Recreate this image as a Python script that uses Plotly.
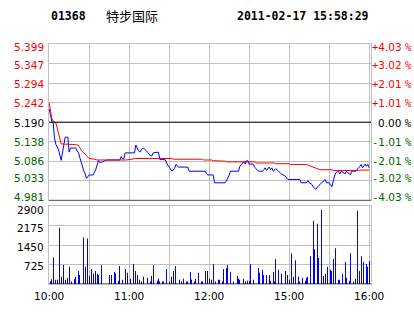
import plotly.graph_objects as go

# ---------------- data ----------------
CODE = "01368"
NAME = "特步国际"
STAMP = "2011-02-17 15:58:29"
PREV_CLOSE = 5.190

price_levels = [5.399, 5.347, 5.294, 5.242, 5.190, 5.138, 5.086, 5.033, 4.981]
pct_labels = ["+4.03 %", "+3.02 %", "+2.01 %", "+1.01 %", "0.00 %",
              "-1.01 %", "-2.01 %", "-3.02 %", "-4.03 %"]
volume_levels = [0, 725, 1450, 2175, 2900]
grid_times = ["10:00", "10:30", "11:00", "11:30", "12:00", "12:30", "15:00", "15:30", "16:00"]
time_labels = ["10:00", "", "11:00", "", "12:00", "", "15:00", "", "16:00"]

price_times = ["10:00", "10:01", "10:02", "10:03", "10:04", "10:05", "10:07", "10:09", "10:11", "10:12",
               "10:14", "10:15", "10:16", "10:20", "10:21", "10:22", "10:23", "10:25", "10:26", "10:27",
               "10:28", "10:30", "10:33", "10:35", "10:36", "10:37", "10:38", "10:39", "10:40", "10:43",
               "10:53", "10:54", "10:55", "10:56", "10:57", "11:04", "11:05", "11:07", "11:08", "11:10",
               "11:11", "11:13", "11:16", "11:17", "11:18", "11:22", "11:23", "11:27", "11:28", "11:30",
               "11:32", "11:34", "11:35", "11:37", "11:44", "11:45", "11:57", "11:58", "11:59", "12:03",
               "12:04", "12:12", "12:13", "12:14", "12:15", "12:16", "12:22", "12:23", "12:25", "12:26",
               "12:27", "12:28", "12:29", "14:30", "14:33", "14:34", "14:37", "14:40", "14:41", "14:42",
               "14:43", "14:45", "14:46", "14:47", "14:48", "14:50", "14:52", "14:54", "14:57", "14:59",
               "15:08", "15:09", "15:13", "15:14", "15:15", "15:17", "15:18", "15:20", "15:22", "15:24",
               "15:27", "15:28", "15:30", "15:32", "15:33", "15:34", "15:35", "15:37", "15:38", "15:39",
               "15:42", "15:43", "15:44", "15:46", "15:47", "15:50", "15:53", "15:54", "15:55", "15:57",
               "15:58", "15:59", "16:00"]
price_values = [5.226, 5.205, 5.192, 5.188, 5.148, 5.131, 5.117, 5.088, 5.135, 5.150,
                5.150, 5.110, 5.121, 5.121, 5.113, 5.108, 5.095, 5.069, 5.060, 5.052,
                5.040, 5.049, 5.049, 5.064, 5.077, 5.088, 5.082, 5.082, 5.084, 5.089,
                5.089, 5.098, 5.092, 5.092, 5.108, 5.108, 5.129, 5.114, 5.110, 5.120,
                5.120, 5.113, 5.100, 5.100, 5.108, 5.110, 5.090, 5.090, 5.081, 5.070,
                5.059, 5.066, 5.077, 5.070, 5.070, 5.059, 5.059, 5.052, 5.049, 5.049,
                5.028, 5.028, 5.037, 5.041, 5.049, 5.059, 5.059, 5.072, 5.081, 5.085,
                5.078, 5.087, 5.087, 5.078, 5.078, 5.070, 5.059, 5.059, 5.063, 5.068,
                5.061, 5.070, 5.063, 5.068, 5.059, 5.066, 5.059, 5.052, 5.046, 5.037,
                5.037, 5.028, 5.028, 5.034, 5.028, 5.024, 5.017, 5.011, 5.020, 5.028,
                5.037, 5.028, 5.028, 5.017, 5.033, 5.046, 5.055, 5.059, 5.052, 5.059,
                5.052, 5.059, 5.055, 5.050, 5.059, 5.059, 5.072, 5.077, 5.068, 5.078,
                5.072, 5.077, 5.068]

avg_times = ["10:00", "10:01", "10:02", "10:03", "10:05", "10:06", "10:07", "10:08", "10:09", "10:20",
             "10:22", "10:24", "10:26", "10:28", "10:30", "10:34", "10:36", "10:58", "11:00", "11:05",
             "11:32", "11:33", "11:55", "11:56", "12:02", "12:03", "12:12", "12:13", "14:34", "14:35",
             "14:49", "14:50", "15:00", "15:01", "15:13", "15:16", "15:19", "15:21", "15:23", "15:32",
             "15:33", "15:52", "15:53", "16:00"]
avg_values = [5.242, 5.215, 5.200, 5.193, 5.188, 5.175, 5.160, 5.143, 5.132, 5.130,
              5.128, 5.115, 5.107, 5.100, 5.093, 5.091, 5.089, 5.089, 5.090, 5.093,
              5.093, 5.091, 5.091, 5.089, 5.089, 5.087, 5.086, 5.084, 5.084, 5.081,
              5.081, 5.079, 5.079, 5.077, 5.077, 5.073, 5.068, 5.065, 5.063, 5.063,
              5.061, 5.061, 5.062, 5.062]

vol_times = ["10:01", "10:02", "10:03", "10:05", "10:06", "10:08", "10:09", "10:11", "10:12", "10:14",
             "10:15", "10:17", "10:19", "10:20", "10:22", "10:23", "10:26", "10:27", "10:29", "10:30",
             "10:32", "10:33", "10:35", "10:36", "10:37", "10:39", "10:45", "10:47", "10:49", "10:50",
             "10:52", "10:53", "10:55", "10:57", "10:59", "11:01", "11:03", "11:05", "11:06", "11:08",
             "11:09", "11:11", "11:14", "11:16", "11:17", "11:18", "11:21", "11:22", "11:23", "11:25",
             "11:26", "11:28", "11:30", "11:32", "11:33", "11:35", "11:38", "11:39", "11:41", "11:43",
             "11:44", "11:46", "11:47", "11:49", "11:50", "11:52", "11:54", "11:55", "11:57", "11:59",
             "12:00", "12:02", "12:03", "12:05", "12:07", "12:08", "12:10", "12:11", "12:13", "12:14",
             "12:16", "12:18", "12:21", "12:22", "12:23", "12:26", "12:27", "12:29", "14:30", "14:31",
             "14:33", "14:37", "14:38", "14:40", "14:41", "14:43", "14:45", "14:46", "14:48", "14:49",
             "14:50", "14:52", "14:54", "14:57", "14:59", "15:00", "15:02", "15:03", "15:05", "15:07",
             "15:08", "15:10", "15:12", "15:13", "15:14", "15:16", "15:18", "15:19", "15:21", "15:22",
             "15:24", "15:26", "15:27", "15:29", "15:31", "15:32", "15:33", "15:35", "15:37", "15:38",
             "15:40", "15:42", "15:43", "15:45", "15:46", "15:48", "15:50", "15:51", "15:53", "15:54",
             "15:56", "15:58", "15:59", "16:00"]
vol_values = [100, 180, 1000, 160, 160, 2100, 270, 710, 160, 220,
              640, 90, 180, 270, 490, 340, 1740, 640, 1700, 300,
              560, 390, 490, 370, 340, 710, 340, 340, 450, 390,
              120, 670, 160, 560, 420, 200, 750, 490, 340, 160,
              90, 270, 230, 90, 300, 710, 120, 200, 90, 90,
              90, 560, 90, 270, 490, 670, 160, 90, 200, 90,
              90, 450, 160, 90, 200, 420, 90, 90, 490, 490,
              200, 160, 750, 90, 160, 160, 90, 560, 600, 710,
              450, 90, 300, 200, 160, 200, 90, 120, 120, 750,
              160, 600, 420, 530, 340, 340, 340, 120, 450, 90,
              930, 530, 380, 490, 340, 160, 1150, 270, 890, 270,
              90, 230, 120, 230, 270, 1040, 2360, 1300, 2250, 970,
              2760, 300, 380, 640, 530, 490, 930, 1330, 160, 160,
              380, 820, 230, 120, 1150, 90, 200, 2730, 490, 1040,
              820, 750, 640, 860]


# ---------------- helpers ----------------
def session_minute(t):
    """Minutes of trading since 10:00 (HK: 10:00-12:30, 14:30-16:00)."""
    h, m = (int(p) for p in t.split(":"))
    total = h * 60 + m
    if total < 14 * 60:
        return total - 10 * 60
    return 150 + total - (14 * 60 + 30)


RED = "#ff0000"
GREEN = "#006400"
BLUE = "#0000ff"
GRID = "#c0c0c0"
FONT = "DejaVu Sans"
MONO = "DejaVu Sans Mono"
LABEL_SIZE = 10.5

W, H = 414, 314
ML, MR, MT, MB = 49, 43, 44, 26
plot_w = W - ML - MR
plot_h = H - MT - MB
px_per_min = 40 / 30
x_lo = -0.125
x_hi = x_lo + plot_w / px_per_min

price_dom = [(plot_h - 159) / plot_h, 1]
vol_dom = [0, 79 / plot_h]

# label nudges (pixels, positive = down) so the end labels stay inside their panel
price_nudge = [2.5, 2, 1, 0.5, 0.5, 0.5, -0.5, -2.5, -3.5]
vol_nudge = [1, 2, 2.5, 3.5]

grid_x = [session_minute(t) for t in grid_times]

fig = go.Figure()
fig.add_trace(go.Scatter(x=[session_minute(t) for t in price_times], y=price_values,
                         mode="lines", line=dict(color=BLUE, width=1),
                         xaxis="x", yaxis="y", hoverinfo="skip"))
fig.add_trace(go.Scatter(x=[session_minute(t) for t in avg_times], y=avg_values,
                         mode="lines", line=dict(color=RED, width=1),
                         xaxis="x", yaxis="y", hoverinfo="skip"))
fig.add_trace(go.Bar(x=[session_minute(t) for t in vol_times], y=vol_values,
                     width=0.19, marker=dict(color=BLUE, line=dict(width=0)),
                     xaxis="x2", yaxis="y2", hoverinfo="skip"))

xcommon = dict(range=[x_lo, x_hi], tickmode="array", tickvals=grid_x,
               showgrid=True, gridcolor=GRID, gridwidth=1, zeroline=False,
               showline=True, linecolor=GRID, linewidth=1, mirror=True,
               ticks="", fixedrange=True)
ycommon = dict(showgrid=True, gridcolor=GRID, gridwidth=1, zeroline=False,
               showline=True, linecolor=GRID, linewidth=1, mirror=True,
               ticks="", showticklabels=False, fixedrange=True, tickmode="array")

fig.update_layout(
    width=W, height=H,
    margin=dict(l=ML, r=MR, t=MT, b=MB, pad=0),
    paper_bgcolor="white", plot_bgcolor="white",
    showlegend=False, hovermode=False,
    xaxis=dict(**xcommon, anchor="y", showticklabels=False),
    xaxis2=dict(**xcommon, anchor="y2", ticktext=time_labels, ticklabelstandoff=2,
                tickfont=dict(family=FONT, size=LABEL_SIZE, color="black")),
    yaxis=dict(**ycommon, domain=price_dom, anchor="x",
               range=[price_levels[-1], price_levels[0]], tickvals=price_levels),
    yaxis2=dict(**ycommon, domain=vol_dom, anchor="x2",
                range=[volume_levels[0], volume_levels[-1]], tickvals=volume_levels),
)

# black reference lines
for yref, yv in (("y", PREV_CLOSE), ("y", price_levels[-1]), ("y2", volume_levels[0])):
    fig.add_shape(type="line", xref="x domain", x0=0, x1=1, yref=yref, y0=yv, y1=yv,
                  line=dict(color="black", width=1), layer="above")


def narrow(ch):
    return f'<span style="font-family:DejaVu Sans Mono">{ch}</span>'


def pct_text(s):
    sign = s[0] if s[0] in "+-" else ""
    body = s[len(sign):].replace(" %", "")
    return (narrow(sign) if sign else "") + body + " " + narrow("%")


# axis labels
ann = []
for lvl, pct, nd in zip(price_levels, pct_labels, price_nudge):
    if abs(lvl - PREV_CLOSE) < 1e-9:
        col = "black"
    elif lvl > PREV_CLOSE:
        col = RED
    else:
        col = GREEN
    ann.append(dict(xref="paper", x=0, xanchor="right", xshift=-3, yref="y", y=lvl,
                    yanchor="middle", yshift=-nd, text=f"{lvl:.3f}", showarrow=False,
                    font=dict(family=FONT, size=LABEL_SIZE, color=col)))
    ann.append(dict(xref="paper", x=1, xanchor="right", xshift=MR, yref="y", y=lvl,
                    yanchor="middle", yshift=-nd, text=pct_text(pct), showarrow=False,
                    font=dict(family=FONT, size=LABEL_SIZE, color=col)))
for v, nd in zip(volume_levels[1:], vol_nudge):
    ann.append(dict(xref="paper", x=0, xanchor="right", xshift=-3, yref="y2", y=v,
                    yanchor="middle", yshift=-nd, text=str(v), showarrow=False,
                    font=dict(family=FONT, size=LABEL_SIZE, color="black")))

# header
ann.append(dict(xref="paper", x=0, xanchor="left", xshift=0, yref="paper", y=1,
                yanchor="middle", yshift=MT - 16, text=f"<b>{CODE}</b>", showarrow=False,
                font=dict(family=MONO, size=11.5, color="black")))
ann.append(dict(xref="paper", x=0, xanchor="left", xshift=55, yref="paper", y=1,
                yanchor="middle", yshift=MT - 15, text=NAME, showarrow=False,
                font=dict(family="Noto Sans CJK SC", size=13, color="black")))
ann.append(dict(xref="paper", x=1, xanchor="right", xshift=0, yref="paper", y=1,
                yanchor="middle", yshift=MT - 16, text=f"<b>{STAMP}</b>", showarrow=False,
                font=dict(family=MONO, size=11.5, color="black")))
fig.update_layout(annotations=ann)

fig.write_html("out.html")
